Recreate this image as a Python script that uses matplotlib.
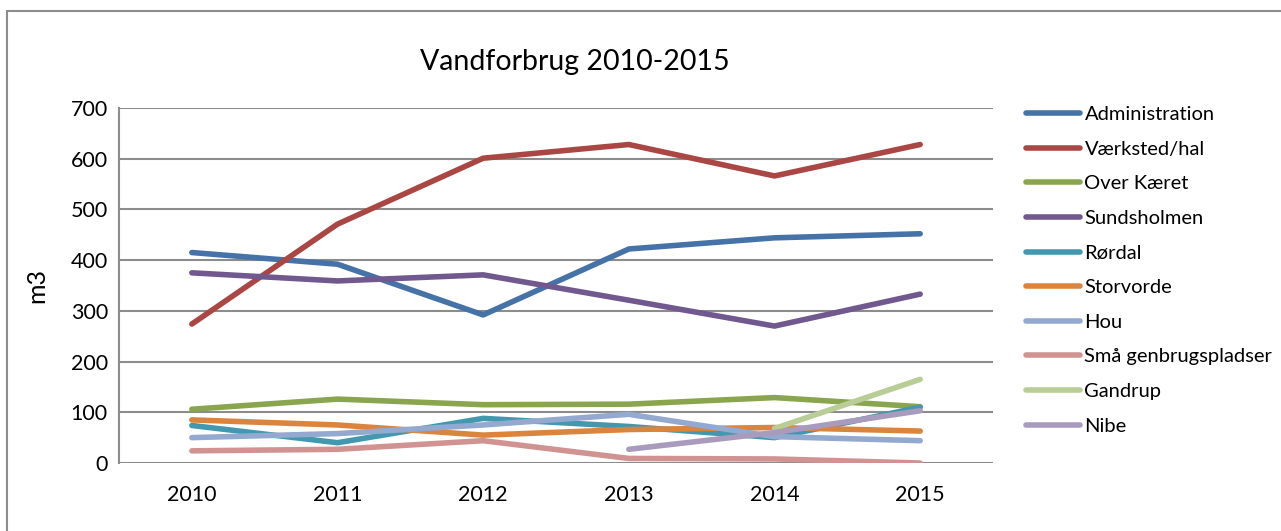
import numpy as np
import matplotlib
matplotlib.use("Agg")
import matplotlib.pyplot as plt
from matplotlib.patches import Rectangle

plt.rcParams['font.family'] = ['Lato', 'DejaVu Sans']

years = ["2010", "2011", "2012", "2013", "2014", "2015"]
nan = np.nan

administration = [415, 392, 292, 422, 444, 452]
vaerksted = [274, 471, 601, 628, 566, 628]
over_kaeret = [106, 126, 115, 116, 129, 111]
sundsholmen = [375, 359, 371, 321, 270, 333]
roerdal = [74, 40, 88, 72, 50, 110]
storvorde = [85, 75, 55, 66, 70, 63]
hou = [50, 58, 75, 96, 52, 44]
smaa = [24, 27, 44, 9, 8, 0]
gandrup = [nan, nan, nan, nan, 68, 165]
nibe = [nan, nan, nan, 27, 60, 103]

series = [
    ("Administration", administration, "#4572A7"),
    ("Værksted/hal", vaerksted, "#AA4643"),
    ("Over Kæret", over_kaeret, "#89A54E"),
    ("Sundsholmen", sundsholmen, "#71588F"),
    ("Rørdal", roerdal, "#4198AF"),
    ("Storvorde", storvorde, "#DB843D"),
    ("Hou", hou, "#93A9CF"),
    ("Små genbrugspladser", smaa, "#D19392"),
    ("Gandrup", gandrup, "#B9CD96"),
    ("Nibe", nibe, "#A99BBD"),
]

fig = plt.figure(figsize=(12.81, 5.31), dpi=100)

# outer chart border (only top and left are visible in the crop)
fig.patches.append(Rectangle((7 / 1281, -0.1), 1.1, 1 - 11 / 531 + 0.1,
                             transform=fig.transFigure, fill=False,
                             edgecolor="#8c8c8c", linewidth=1.5))

ax = fig.add_axes([119 / 1281, 1 - 463 / 531, (993 - 119) / 1281, (463 - 108) / 531])

x = np.arange(len(years))
for name, vals, color in series:
    ax.plot(x, vals, color=color, linewidth=4, solid_capstyle="round",
            solid_joinstyle="round", label=name)

ax.set_xlim(-0.5, len(years) - 0.5)
ax.set_ylim(0, 700)
ax.set_yticks(range(0, 701, 100))
ax.set_xticks(x)
ax.set_xticklabels(years)
ax.yaxis.grid(True, color="#8c8c8c", linewidth=1.5)
ax.set_axisbelow(True)
for side in ["top", "right", "bottom"]:
    ax.spines[side].set_visible(False)
ax.spines["left"].set_color("#8c8c8c")
ax.spines["left"].set_linewidth(1.5)
ax.tick_params(length=0, labelsize=15.5, pad=8)
ax.tick_params(axis="x", pad=16)
ax.set_ylabel("m3", fontsize=18, labelpad=16)

fig.text(575 / 1281, 1 - 62 / 531, "Vandforbrug 2010-2015", fontsize=20.5,
         ha="center", va="center")

leg = ax.legend(loc="upper left", bbox_to_anchor=(1018 / 1281, 1 - 98 / 531),
                bbox_transform=fig.transFigure, frameon=False, fontsize=14.5,
                handlelength=2.7, handletextpad=0.2, labelspacing=0.87,
                borderaxespad=0)

fig.savefig("out.png", dpi=100)
